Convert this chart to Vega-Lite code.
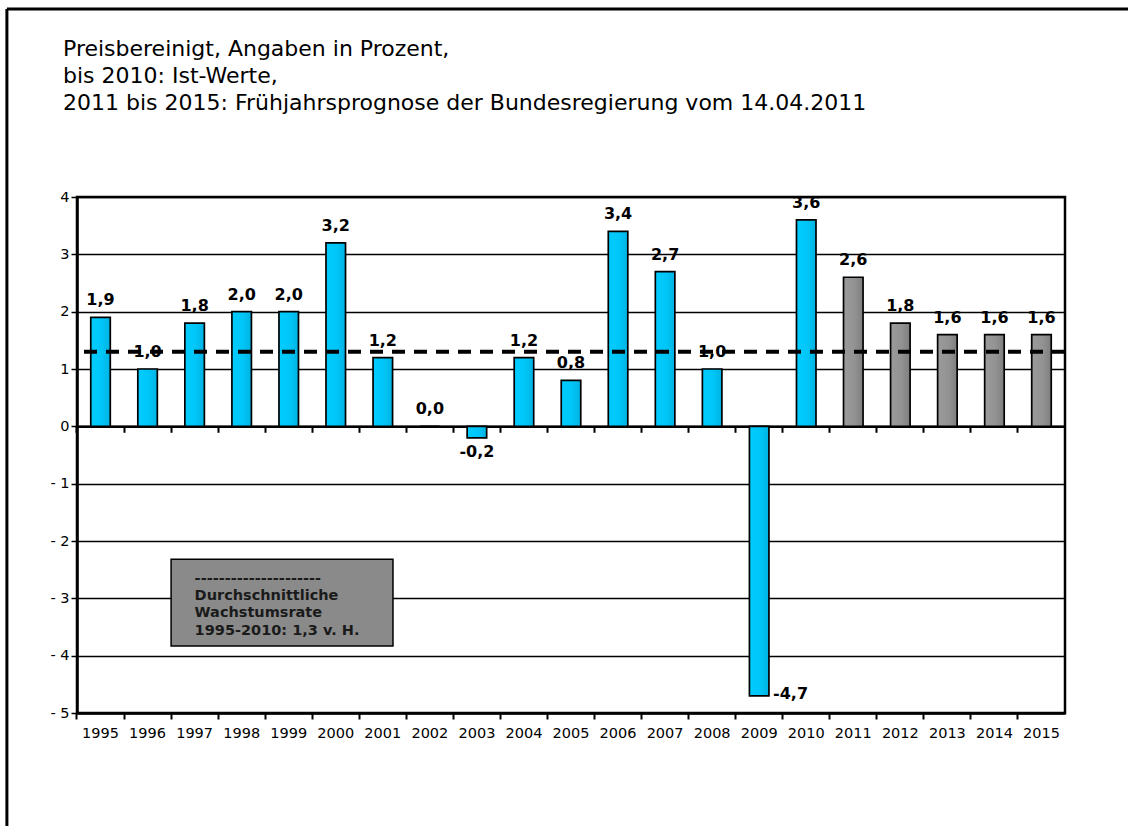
{
  "$schema": "https://vega.github.io/schema/vega-lite/v6.json",
  "autosize": "none",
  "width": 988,
  "height": 516,
  "padding": {"left": 77, "top": 197, "right": 63, "bottom": 113},
  "background": "white",
  "title": {
    "text": ["Preisbereinigt, Angaben in Prozent,", "bis 2010: Ist-Werte,", "2011 bis 2015: Frühjahrsprognose der Bundesregierung vom 14.04.2011"],
    "anchor": "start",
    "frame": "group",
    "font": "DejaVu Sans",
    "fontSize": 22,
    "fontWeight": "normal",
    "color": "black",
    "lineHeight": 27,
    "dx": -14,
    "offset": -108
  },
  "data": {"values": [
    {"year": "1995", "value": 1.9, "kind": "Ist"},
    {"year": "1996", "value": 1.0, "kind": "Ist"},
    {"year": "1997", "value": 1.8, "kind": "Ist"},
    {"year": "1998", "value": 2.0, "kind": "Ist"},
    {"year": "1999", "value": 2.0, "kind": "Ist"},
    {"year": "2000", "value": 3.2, "kind": "Ist"},
    {"year": "2001", "value": 1.2, "kind": "Ist"},
    {"year": "2002", "value": 0.0, "kind": "Ist"},
    {"year": "2003", "value": -0.2, "kind": "Ist"},
    {"year": "2004", "value": 1.2, "kind": "Ist"},
    {"year": "2005", "value": 0.8, "kind": "Ist"},
    {"year": "2006", "value": 3.4, "kind": "Ist"},
    {"year": "2007", "value": 2.7, "kind": "Ist"},
    {"year": "2008", "value": 1.0, "kind": "Ist"},
    {"year": "2009", "value": -4.7, "kind": "Ist"},
    {"year": "2010", "value": 3.6, "kind": "Ist"},
    {"year": "2011", "value": 2.6, "kind": "Prognose"},
    {"year": "2012", "value": 1.8, "kind": "Prognose"},
    {"year": "2013", "value": 1.6, "kind": "Prognose"},
    {"year": "2014", "value": 1.6, "kind": "Prognose"},
    {"year": "2015", "value": 1.6, "kind": "Prognose"}
  ]},
  "resolve": {"axis": {"x": "independent", "y": "independent"}},
  "layer": [
    {
      "transform": [{"filter": "datum.kind === 'Ist'"}],
      "mark": {
        "type": "bar",
        "width": {"band": 0.415},
        "fill": {"gradient": "linear", "x1": 0, "x2": 1, "y1": 0, "y2": 0,
          "stops": [{"offset": 0, "color": "#00CCFF"}, {"offset": 0.55, "color": "#00C6F8"}, {"offset": 1, "color": "#00B2E2"}]},
        "stroke": "black",
        "strokeWidth": 1.7
      },
      "encoding": {
        "x": {
          "field": "year", "type": "ordinal",
          "scale": {"domain": ["1995","1996","1997","1998","1999","2000","2001","2002","2003","2004","2005","2006","2007","2008","2009","2010","2011","2012","2013","2014","2015"], "paddingInner": 0, "paddingOuter": 0},
          "axis": {
            "title": null, "orient": "bottom", "bandPosition": 0, "labelAngle": 0,
            "labelFont": "DejaVu Sans", "labelFontSize": 14.5, "labelColor": "black",
            "labelPadding": 7, "labelBaseline": "top",
            "domain": true, "domainColor": "black", "domainWidth": 2.5,
            "ticks": true, "tickColor": "black", "tickWidth": 2, "tickSize": 6,
            "grid": false
          }
        },
        "y": {
          "field": "value", "type": "quantitative",
          "scale": {"domain": [-5, 4], "nice": false, "zero": false},
          "axis": {
            "title": null, "values": [-5,-4,-3,-2,-1,0,1,2,3,4],
            "labelExpr": "datum.value < 0 ? '- ' + abs(datum.value) : datum.label",
            "labelFont": "DejaVu Sans", "labelFontSize": 14.5, "labelColor": "black", "labelPadding": 2,
            "domain": true, "domainColor": "black", "domainWidth": 2.5,
            "ticks": true, "tickColor": "black", "tickWidth": 1.5, "tickSize": 6,
            "grid": true, "gridColor": "black", "gridWidth": 1.5, "gridOpacity": 1
          }
        }
      }
    },
    {
      "transform": [{"filter": "datum.kind === 'Prognose'"}],
      "mark": {
        "type": "bar",
        "width": {"band": 0.415},
        "fill": {"gradient": "linear", "x1": 0, "x2": 1, "y1": 0, "y2": 0,
          "stops": [{"offset": 0, "color": "#9A9A9A"}, {"offset": 0.55, "color": "#939393"}, {"offset": 1, "color": "#7E7E7E"}]},
        "stroke": "black",
        "strokeWidth": 1.7
      },
      "encoding": {
        "x": {
          "field": "year", "type": "ordinal",
          "axis": {
            "title": null, "orient": "bottom", "offset": -286.7, "bandPosition": 0,
            "labels": false, "grid": false,
            "domain": true, "domainColor": "black", "domainWidth": 2.5,
            "ticks": true, "tickColor": "black", "tickWidth": 2, "tickSize": 6
          }
        },
        "y": {"field": "value", "type": "quantitative", "axis": null}
      }
    },
    {
      "data": {"values": [{"avg": 1.3}]},
      "mark": {"type": "rule", "stroke": "black", "strokeWidth": 4, "strokeDash": [13, 9]},
      "encoding": {
        "y": {"field": "avg", "type": "quantitative", "axis": null}
      }
    },
    {
      "transform": [{"filter": "datum.value >= 0"}],
      "mark": {"type": "text", "font": "DejaVu Sans", "fontSize": 16, "fontWeight": "bold", "color": "black", "baseline": "alphabetic", "dy": -12},
      "encoding": {
        "x": {"field": "year", "type": "ordinal", "axis": null},
        "y": {"field": "value", "type": "quantitative", "axis": null},
        "text": {"field": "value", "type": "quantitative", "format": ".1f"}
      }
    },
    {
      "transform": [{"filter": "datum.value < 0 && datum.value > -1"}],
      "mark": {"type": "text", "font": "DejaVu Sans", "fontSize": 16, "fontWeight": "bold", "color": "black", "baseline": "top", "dy": 6},
      "encoding": {
        "x": {"field": "year", "type": "ordinal", "axis": null},
        "y": {"field": "value", "type": "quantitative", "axis": null},
        "text": {"field": "value", "type": "quantitative", "format": ".1f"}
      }
    },
    {
      "transform": [{"filter": "datum.value <= -1"}],
      "mark": {"type": "text", "font": "DejaVu Sans", "fontSize": 16, "fontWeight": "bold", "color": "black", "baseline": "middle", "align": "left", "dx": 4, "dy": -2},
      "encoding": {
        "x": {"field": "year", "type": "ordinal", "bandPosition": 0.71, "axis": null},
        "y": {"field": "value", "type": "quantitative", "axis": null},
        "text": {"field": "value", "type": "quantitative", "format": ".1f"}
      }
    },
    {
      "data": {"values": [{"note": "box"}]},
      "mark": {"type": "rect", "fill": "#8A8A8A", "stroke": "black", "strokeWidth": 1.5},
      "encoding": {
        "x": {"datum": "1997", "type": "ordinal", "bandPosition": 0, "axis": null},
        "x2": {"datum": "2001", "bandPosition": 0.716},
        "y": {"datum": -2.32, "type": "quantitative", "axis": null},
        "y2": {"datum": -3.83}
      }
    },
    {
      "data": {"values": [{"note": "---------------------\nDurchschnittliche\nWachstumsrate\n1995-2010: 1,3 v. H."}]},
      "mark": {"type": "text", "font": "DejaVu Sans", "fontSize": 14.5, "fontWeight": "bold", "color": "#1A1A1A", "align": "left", "baseline": "top", "lineBreak": "\n", "lineHeight": 17.2},
      "encoding": {
        "x": {"datum": "1997", "type": "ordinal", "bandPosition": 0.5, "axis": null},
        "y": {"datum": -2.54, "type": "quantitative", "axis": null},
        "text": {"field": "note", "type": "nominal"}
      }
    },
    {
      "data": {"values": [{"frame": "left"}]},
      "mark": {"type": "rule", "stroke": "black", "strokeWidth": 3},
      "encoding": {
        "x": {"datum": "1995", "type": "ordinal", "bandPosition": -1.49, "axis": null},
        "y": {"datum": 7.28, "type": "quantitative", "axis": null},
        "y2": {"datum": -7.1}
      }
    },
    {
      "data": {"values": [{"frame": "top"}]},
      "mark": {"type": "rule", "stroke": "black", "strokeWidth": 3},
      "encoding": {
        "x": {"datum": "1995", "type": "ordinal", "bandPosition": -1.49, "axis": null},
        "x2": {"datum": "2015", "bandPosition": 2.5},
        "y": {"datum": 7.28, "type": "quantitative", "axis": null}
      }
    }
  ],
  "config": {
    "locale": {"number": {"decimal": ",", "thousands": ".", "grouping": [3], "currency": ["", " €"], "minus": "-"}},
    "view": {"stroke": "black", "strokeWidth": 2.5},
    "axis": {"labelFont": "DejaVu Sans"}
  }
}
